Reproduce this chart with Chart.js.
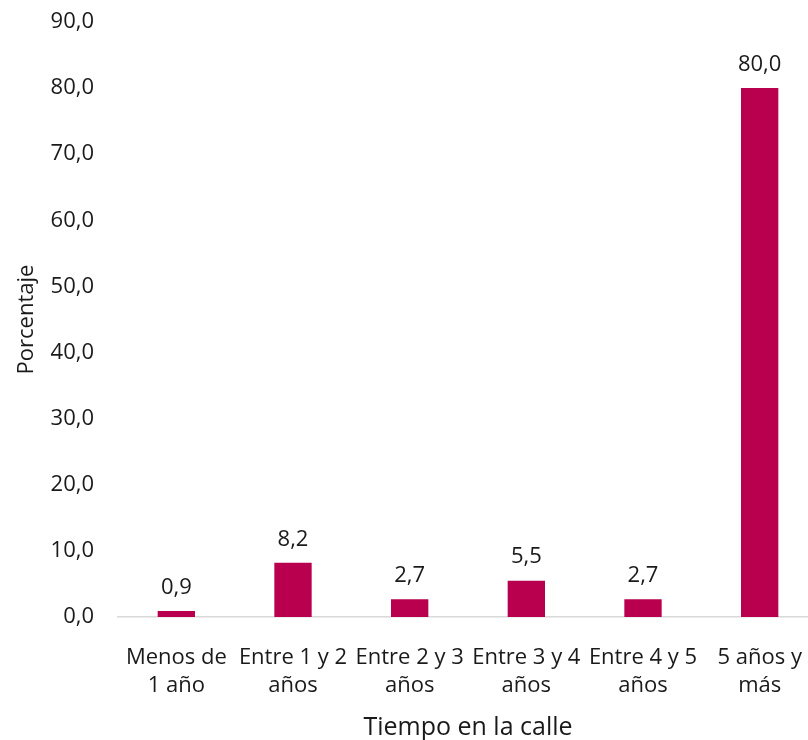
<!DOCTYPE html>
<html>
<head>
<meta charset="utf-8">
<script src="https://cdn.jsdelivr.net/npm/chart.js@4.4.1/dist/chart.umd.min.js"></script>
<style>
  html, body { margin: 0; padding: 0; background: #fff; overflow: hidden; }
  #wrap { width: 818px; height: 740px; }
</style>
</head>
<body>
<div id="wrap"><canvas id="c"></canvas></div>
<script>
const categories = [
  ["Menos de", "1 año"],
  ["Entre 1 y 2", "años"],
  ["Entre 2 y 3", "años"],
  ["Entre 3 y 4", "años"],
  ["Entre 4 y 5", "años"],
  ["5 años y", "más"]
];
const percentages = [0.9, 8.2, 2.7, 5.5, 2.7, 80.0];
const yTickValues = [0, 10, 20, 30, 40, 50, 60, 70, 80, 90];
const yAxisTitle = "Porcentaje";
const xAxisTitle = "Tiempo en la calle";

const fmt = v => v.toFixed(1).replace('.', ',');
const FONT = "'Open Sans', 'Noto Sans', sans-serif";
const TEXT = '#1a1a1a';

const barLabels = {
  id: 'barLabels',
  afterDatasetsDraw(chart) {
    const ctx = chart.ctx;
    const meta = chart.getDatasetMeta(0);
    ctx.save();
    ctx.font = `22px ${FONT}`;
    ctx.fillStyle = TEXT;
    ctx.textAlign = 'center';
    ctx.textBaseline = 'middle';
    meta.data.forEach((bar, i) => {
      ctx.fillText(fmt(percentages[i]), bar.x, bar.y - 23.5);
    });
    ctx.restore();
  }
};

new Chart(document.getElementById('c'), {
  type: 'bar',
  data: {
    labels: categories,
    datasets: [{
      data: percentages,
      backgroundColor: '#B8004E',
      borderWidth: 0,
      barPercentage: 0.32,
      categoryPercentage: 1.0
    }]
  },
  options: {
    responsive: true,
    maintainAspectRatio: false,
    animation: false,
    layout: { padding: { top: 22, right: 0, bottom: 0, left: 0 } },
    plugins: { legend: { display: false }, tooltip: { enabled: false } },
    scales: {
      x: {
        grid: { display: false, drawTicks: false },
        border: { display: true, color: '#D9D9D9', width: 1.5 },
        afterFit: scale => { scale.height = 123; scale.paddingLeft = 0; scale.paddingRight = 0; },
        ticks: {
          color: TEXT,
          font: { family: FONT, size: 22, lineHeight: 1.3 },
          padding: 26,
          maxRotation: 0,
          minRotation: 0,
          autoSkip: false
        },
        title: {
          display: true,
          text: xAxisTitle,
          color: TEXT,
          font: { family: FONT, size: 25, lineHeight: 1.0 },
          padding: { top: 0, bottom: 0 }
        }
      },
      y: {
        min: 0,
        max: 90,
        grid: { display: false, drawTicks: false },
        border: { display: false },
        afterBuildTicks: axis => { axis.ticks = yTickValues.map(v => ({ value: v })); },
        afterFit: scale => { scale.width = 118; scale.paddingTop = 0; scale.paddingBottom = 0; },
        ticks: {
          color: TEXT,
          font: { family: FONT, size: 22, lineHeight: 1.2 },
          padding: 24,
          callback: v => fmt(v)
        },
        title: {
          display: true,
          text: yAxisTitle,
          color: TEXT,
          font: { family: FONT, size: 22, lineHeight: 1.2 },
          padding: { top: 14, bottom: 0 }
        }
      }
    }
  },
  plugins: [barLabels]
});
</script>
</body>
</html>
